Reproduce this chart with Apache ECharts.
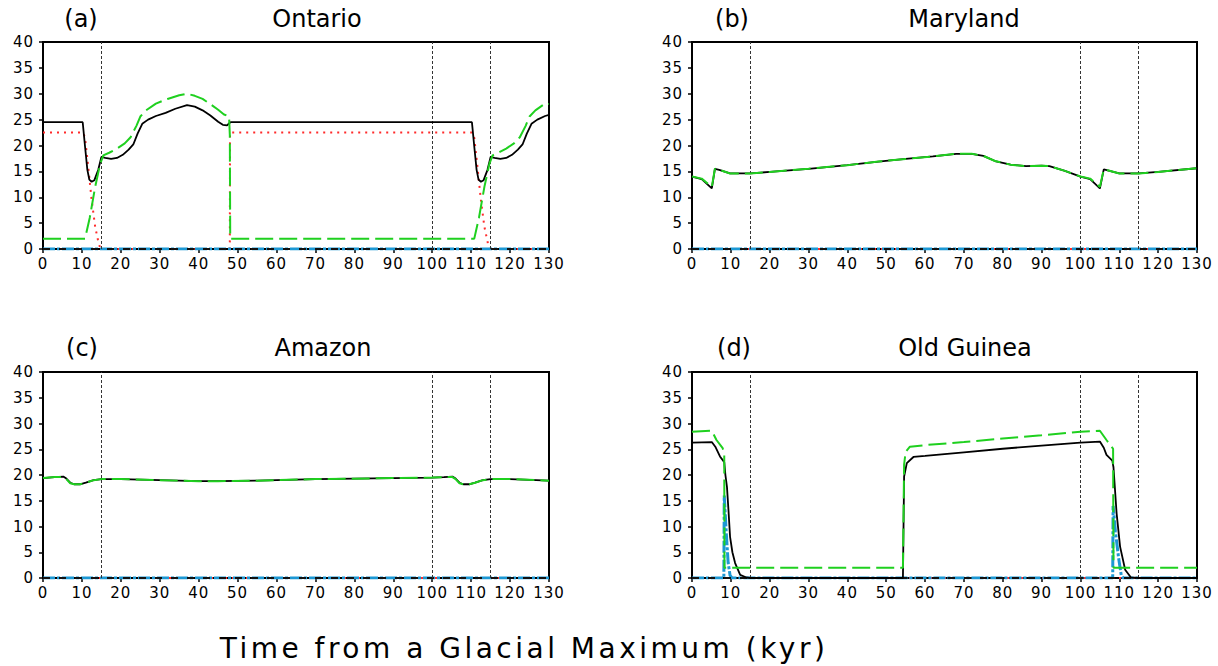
<!DOCTYPE html>
<html>
<head>
<meta charset="utf-8">
<script src="https://cdn.jsdelivr.net/npm/echarts@6/dist/echarts.min.js"></script>
<style>
html, body { margin: 0; padding: 0; background: #fff; }
#chart { width: 1218px; height: 666px; }
</style>
</head>
<body>
<div id="chart"></div>
<script>
// time axis (kyr) and values, as [time, value]
var panelTags = ['(a)', '(b)', '(c)', '(d)'];
var panelNames = ['Ontario', 'Maryland', 'Amazon', 'Old Guinea'];
var xTitle = 'Time from a Glacial Maximum (kyr)';
var refTimes = [15, 100, 115];
var zeroLine = [[0, 0], [130, 0]];

var ontarioBlack = [[0,24.5],[10.2,24.5],[10.8,19.8],[11.4,15.3],[11.9,13.4],[12.5,13],[13.2,13.3],[14.2,15.3],[15,17.8],
  [16,17.6],[17.5,17.4],[19,17.6],[20.5,18.2],[22,19.2],[23.2,20.2],[24.3,22.3],[25.5,24.2],[27,25],[29,25.7],[31.5,26.3],
  [34,27.1],[37,27.8],[39,27.5],[41,26.8],[43,25.8],[45,24.6],[46.2,24],[47.3,23.9],[47.8,24.3],[48.2,24.5],
  [110.2,24.5],[110.8,19.8],[111.4,15.3],[111.9,13.4],[112.5,13],[113.2,13.3],[114.2,15.3],[115,17.8],
  [116,17.6],[117.5,17.4],[119,17.6],[120.5,18.2],[122,19.2],[123.2,20.2],[124.3,22.3],[125.5,24.2],[127,25],[129,25.7],[130,25.9]];
var ontarioGreen = [[0,2],[10.8,2],[12,6],[13.4,12],[14.7,16.5],[15.5,18.1],[17,18.6],[19,19.4],[21,20.4],[22.5,21.6],
  [24,23.8],[25,25.6],[26.5,26.8],[29,28.1],[32,29],[35,29.7],[37,30],[39,29.6],[41,29],[43,28],[45,26.9],[46.5,26],
  [47.8,25.6],[48,22],[48.1,2],
  [110.8,2],[112,6],[113.4,12],[114.7,16.5],[115.5,18.1],[117,18.6],[119,19.4],[121,20.4],[122.5,21.6],
  [124,23.8],[125,25.6],[126.5,26.8],[129,28.1],[130,28]];
var ontarioRed = [[0,22.5],[10.3,22.5],[10.8,21.5],[11.6,16],[12.5,9.5],[13.4,4.3],[14.3,1.1],[14.8,0],[48,0],[48.05,22.5],
  [110.3,22.5],[110.8,21.5],[111.6,16],[112.5,9.5],[113.4,4.3],[114.3,1.1],[114.8,0],[130,0]];

var marylandBlack = [[0,14],[2.5,13.5],[5.1,11.7],[5.9,15.5],[7,15.3],[9.8,14.6],[15,14.6],[20,14.9],[30,15.5],[40,16.2],
  [48,16.9],[55,17.4],[62,17.9],[68,18.4],[72,18.4],[75,18],[78,17],[82,16.3],[86,16],[90,16.1],[92,16],[96,15.1],
  [100,14],[102.5,13.5],[105,11.7],[106,15.4],[107,15.2],[110,14.6],[115,14.6],[120,14.9],[130,15.6]];
var marylandGreen = [[0,14],[2.5,13.6],[5.1,12],[5.9,15.5],[7,15.3],[9.8,14.6],[15,14.6],[20,14.9],[30,15.5],[40,16.2],
  [48,16.9],[55,17.4],[62,17.9],[68,18.4],[72,18.4],[75,18],[78,17],[82,16.3],[86,16],[90,16.1],[92,16],[96,15.1],
  [100,14],[102.5,13.6],[105,12],[106,15.4],[107,15.2],[110,14.6],[115,14.6],[120,14.9],[130,15.6]];

var amazonBlack = [[0,19.4],[3,19.6],[5.2,19.7],[6,19.3],[7,18.5],[8,18.2],[9.5,18.2],[11,18.5],[13,19],[15,19.2],[20,19.2],
  [30,19],[40,18.8],[45,18.8],[55,18.9],[70,19.2],[90,19.4],[100,19.5],[103,19.6],[105.2,19.7],[106,19.3],[107,18.5],
  [108,18.2],[109.5,18.2],[111,18.5],[113,19],[115,19.2],[120,19.2],[130,18.9]];
var amazonGreen = [[0,19.4],[3,19.6],[5.2,19.6],[6,19.2],[7,18.4],[8,18.2],[9.5,18.2],[11,18.5],[13,19],[15,19.2],[20,19.2],
  [30,19],[40,18.8],[45,18.8],[55,18.9],[70,19.2],[90,19.4],[100,19.5],[103,19.6],[105.2,19.6],[106,19.2],[107,18.4],
  [108,18.2],[109.5,18.2],[111,18.5],[113,19],[115,19.2],[120,19.2],[130,18.9]];

var guineaBlack = [[0,26.3],[5.1,26.4],[6,25.5],[7.2,23.6],[8.3,22.5],[8.6,20],[9,17.7],[9.4,13],[9.8,8],[10.4,5],[11.1,2.9],
  [12.4,0.6],[14,0.1],[15,0],[54.3,0],[54.6,19.7],[55.3,22.3],[57,23.5],[60,23.7],[70,24.4],[80,25.1],[90,25.7],[100,26.3],
  [105,26.5],[106,25.3],[106.7,23.9],[108.2,22.8],[108.5,21.5],[109.3,12.6],[110.2,6.1],[111.5,1.6],[113,0.1],[115,0],[130,0]];
var guineaGreen = [[0,28.4],[5.1,28.6],[6.3,26.8],[7.9,25.2],[8.3,24.1],[8.35,2],[54.3,2],[54.6,22],[55,24.5],[56.1,25.5],
  [60,25.8],[70,26.4],[80,27.1],[90,27.7],[100,28.4],[105,28.6],[106.7,26.8],[108.4,25.1],[108.5,2],[130,2]];
var guineaCyan = [[0,0],[8.2,0],[8.3,16],[8.8,9],[9.3,3],[9.8,0.5],[10.3,0],[108.3,0],[108.4,14],[109,9],[109.8,4],
  [110.5,0.5],[111,0],[130,0]];

var panelBlack = [ontarioBlack, marylandBlack, amazonBlack, guineaBlack];
var panelGreen = [ontarioGreen, marylandGreen, amazonGreen, guineaGreen];
var panelRed = [ontarioRed, zeroLine, zeroLine, zeroLine];
var panelCyan = [zeroLine, zeroLine, zeroLine, guineaCyan];

var boxes = [
  {left: 43, top: 42, width: 506, height: 207},
  {left: 692, top: 42, width: 505, height: 207},
  {left: 43, top: 372, width: 506, height: 206},
  {left: 692, top: 372, width: 505, height: 206}
];
var tagPos = [[81, 19], [732, 19], [82, 348], [734, 348]];
var namePos = [[317, 19], [964, 19], [323, 348], [965, 348]];

var font = 'DejaVu Sans';
var grids = [], xAxes = [], yAxes = [], series = [], texts = [];

for (var i = 0; i < 4; i++) {
  grids.push({
    left: boxes[i].left, top: boxes[i].top, width: boxes[i].width, height: boxes[i].height,
    show: true, borderColor: '#000', borderWidth: 2, outerBoundsMode: 'none'
  });
  xAxes.push({
    gridIndex: i, type: 'value', min: 0, max: 130, interval: 10,
    axisLine: {show: true, onZero: false, lineStyle: {color: '#000', width: 2}},
    axisTick: {show: true, length: 4, lineStyle: {color: '#000', width: 1.5}},
    axisLabel: {color: '#000', fontSize: 15, fontFamily: font, margin: 7},
    splitLine: {show: false}
  });
  yAxes.push({
    gridIndex: i, type: 'value', min: 0, max: 40, interval: 5,
    axisLine: {show: true, onZero: false, lineStyle: {color: '#000', width: 2}},
    axisTick: {show: true, length: 4, lineStyle: {color: '#000', width: 1.5}},
    axisLabel: {color: '#000', fontSize: 15, fontFamily: font, margin: 9},
    splitLine: {show: false}
  });
  // red sits lowest so its zero stretches stay hidden under the baseline
  series.push({
    type: 'line', xAxisIndex: i, yAxisIndex: i, data: panelRed[i], symbol: 'none', z: 2,
    lineStyle: {color: '#ff2a2a', width: 2, type: [2, 5]},
    markLine: {
      silent: true, symbol: ['none', 'none'], label: {show: false},
      lineStyle: {color: '#333', width: 1, type: [3, 2]},
      data: refTimes.map(function (t) { return {xAxis: t}; })
    }
  });
  series.push({
    type: 'line', xAxisIndex: i, yAxisIndex: i, data: panelCyan[i], symbol: 'none', z: 3,
    lineStyle: {color: '#1c98d4', width: 3, type: [12, 2, 3, 2]}
  });
  series.push({
    type: 'line', xAxisIndex: i, yAxisIndex: i, data: zeroLine, symbol: 'none', z: 4,
    lineStyle: {color: '#111', width: 2, type: [7, 9]}
  });
  series.push({
    type: 'line', xAxisIndex: i, yAxisIndex: i, data: panelBlack[i], symbol: 'none', z: 5,
    lineStyle: {color: '#000', width: 1.8}
  });
  series.push({
    type: 'line', xAxisIndex: i, yAxisIndex: i, data: panelGreen[i], symbol: 'none', z: 6,
    lineStyle: {color: '#1fd01f', width: 2, type: [18, 6]}
  });
  texts.push({
    type: 'text', x: tagPos[i][0], y: tagPos[i][1],
    style: {text: panelTags[i], fontSize: 24, fontFamily: font, fill: '#000', align: 'center', verticalAlign: 'middle'}
  });
  texts.push({
    type: 'text', x: namePos[i][0], y: namePos[i][1],
    style: {text: panelNames[i], fontSize: 24, fontFamily: font, fill: '#000', align: 'center', verticalAlign: 'middle'}
  });
}
texts.push({
  type: 'text', x: 524, y: 648,
  style: {text: xTitle, fontSize: 28, fontFamily: font, fill: '#000', align: 'center', verticalAlign: 'middle'}
});

var chart = echarts.init(document.getElementById('chart'), null, {renderer: 'svg'});
chart.on('finished', function () {
  var nodes = document.querySelectorAll('#chart text');
  for (var k = 0; k < nodes.length; k++) {
    var s = nodes[k].textContent;
    if (s === xTitle) nodes[k].setAttribute('letter-spacing', '3.5');
    else if (/^\d+$/.test(s)) nodes[k].setAttribute('letter-spacing', '1');
  }
});
chart.setOption({
  animation: false,
  backgroundColor: '#fff',
  grid: grids,
  xAxis: xAxes,
  yAxis: yAxes,
  series: series,
  graphic: texts
});
</script>
</body>
</html>
